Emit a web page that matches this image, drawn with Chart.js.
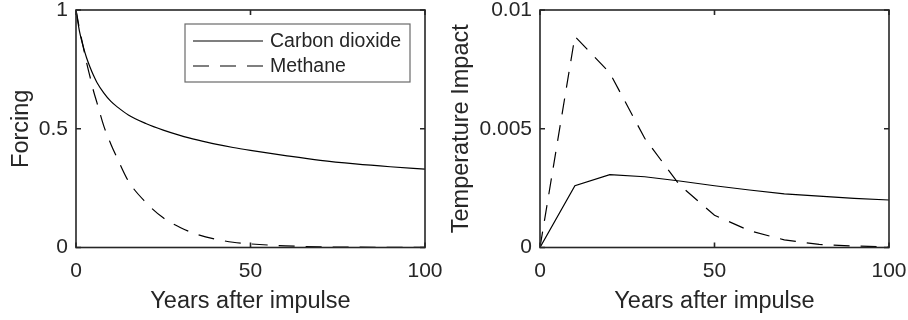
<!DOCTYPE html>
<html>
<head>
<meta charset="utf-8">
<script src="https://cdn.jsdelivr.net/npm/chart.js@4/dist/chart.umd.min.js"></script>
<style>
  body { margin: 0; background: #fff; }
  #wrap { position: relative; width: 908px; height: 320px; overflow: hidden; }
  canvas { position: absolute; top: 0; }
  #forcingChart { left: 0; }
  #tempChart { left: 440px; }
</style>
</head>
<body>
<div id="wrap">
  <canvas id="forcingChart" width="454" height="320"></canvas>
  <canvas id="tempChart" width="468" height="320"></canvas>
</div>
<script>
// forcing after a one-off pulse (left panel)
const forcingYears = [0, 1, 2, 3, 4, 5, 6, 8, 10, 12, 15, 20, 25, 30, 35, 40, 45, 50, 60, 70, 80, 90, 100];
const co2Forcing = [1, 0.91, 0.85, 0.80, 0.76, 0.725, 0.695, 0.65, 0.615, 0.59, 0.558, 0.522, 0.494, 0.471, 0.452, 0.435, 0.421, 0.409, 0.387, 0.367, 0.352, 0.34, 0.33];
const ch4Forcing = [1, 0.92, 0.85, 0.78, 0.72, 0.66, 0.61, 0.51, 0.435, 0.37, 0.28, 0.19, 0.125, 0.083, 0.054, 0.035, 0.022, 0.015, 0.007, 0.003, 0.0013, 0.0006, 0.0002];

// temperature response, 10-year steps (right panel)
const tempYears = [0, 10, 20, 30, 40, 50, 60, 70, 80, 90, 100];
const co2Temp = [0, 0.0026, 0.00307, 0.00298, 0.0028, 0.0026, 0.00242, 0.00226, 0.00216, 0.00207, 0.002];
const ch4Temp = [0, 0.00889, 0.00735, 0.0046, 0.00263, 0.00136, 0.00071, 0.00032, 0.00013, 0.00006, 0.00003];

const seriesNames = ['Carbon dioxide', 'Methane'];
const xTicks = [0, 50, 100];

const FONT = "'Liberation Sans', Arial, Helvetica, sans-serif";
const TEXT = '#262626';
const DASH = [16, 11];

function points(xs, ys) {
  return xs.map((x, i) => ({ x: x, y: ys[i] }));
}

// box around the plot area with inward tick marks on all four sides
const framePlugin = {
  id: 'frame',
  afterDatasetsDraw(chart) {
    const { ctx, chartArea: a, scales: { x, y } } = chart;
    ctx.save();
    ctx.strokeStyle = TEXT;
    ctx.lineWidth = 1.6;
    ctx.strokeRect(a.left, a.top, a.width, a.height);
    ctx.beginPath();
    x.ticks.forEach(t => {
      const px = x.getPixelForValue(t.value);
      ctx.moveTo(px, a.bottom); ctx.lineTo(px, a.bottom - 5);
      ctx.moveTo(px, a.top); ctx.lineTo(px, a.top + 5);
    });
    y.ticks.forEach(t => {
      const py = y.getPixelForValue(t.value);
      ctx.moveTo(a.left, py); ctx.lineTo(a.left + 5, py);
      ctx.moveTo(a.right, py); ctx.lineTo(a.right - 5, py);
    });
    ctx.stroke();
    ctx.restore();
  }
};

// legend drawn inside the plot, top right
const boxLegend = {
  id: 'boxLegend',
  afterDraw(chart) {
    const { ctx } = chart;
    const box = { x: 185, y: 24, w: 225, h: 58 };
    ctx.save();
    ctx.fillStyle = '#fff';
    ctx.fillRect(box.x, box.y, box.w, box.h);
    ctx.strokeStyle = '#6a6a6a';
    ctx.lineWidth = 1.2;
    ctx.strokeRect(box.x, box.y, box.w, box.h);
    ctx.font = '19.5px ' + FONT;
    ctx.textBaseline = 'middle';
    ctx.fillStyle = TEXT;
    chart.data.datasets.forEach((ds, i) => {
      const ry = 41 + i * 25;
      ctx.beginPath();
      ctx.setLineDash(ds.borderDash || []);
      ctx.strokeStyle = ds.borderColor;
      ctx.lineWidth = ds.borderWidth;
      ctx.moveTo(193, ry);
      ctx.lineTo(263, ry);
      ctx.stroke();
      ctx.setLineDash([]);
      ctx.fillText(ds.label, 270, ry + 1);
    });
    ctx.restore();
  }
};

function makeConfig(datasets, opts) {
  return {
    type: 'line',
    data: { datasets: datasets },
    options: {
      responsive: false,
      animation: false,
      devicePixelRatio: 1,
      layout: { padding: { top: 10, right: opts.padRight, left: 0, bottom: 0 } },
      plugins: { legend: { display: false }, tooltip: { enabled: false } },
      elements: { point: { radius: 0 }, line: { tension: 0 } },
      scales: {
        x: {
          type: 'linear',
          min: 0,
          max: 100,
          afterBuildTicks: s => { s.ticks = xTicks.map(v => ({ value: v })); },
          grid: { display: false, drawTicks: false },
          border: { display: false },
          ticks: { color: TEXT, padding: 11, maxRotation: 0, font: { family: FONT, size: 21 } },
          title: {
            display: true,
            text: 'Years after impulse',
            color: TEXT,
            padding: { top: 0, bottom: 4.5 },
            font: { family: FONT, size: 23.5 }
          },
          afterFit: s => {
            s.height = 72.5;
            s.paddingLeft = 0; s.paddingRight = 0;
          }
        },
        y: {
          type: 'linear',
          min: 0,
          max: opts.yMax,
          afterBuildTicks: s => { s.ticks = opts.yTicks.map(v => ({ value: v })); },
          grid: { display: false, drawTicks: false },
          border: { display: false },
          ticks: {
            color: TEXT,
            padding: 8,
            font: { family: FONT, size: 21 },
            callback: v => String(v)
          },
          title: {
            display: true,
            text: opts.yTitle,
            color: TEXT,
            padding: { top: opts.titlePad, bottom: 0 },
            font: { family: FONT, size: 23.5 }
          },
          afterFit: s => {
            s.width = opts.yWidth;
            s.paddingTop = 0; s.paddingBottom = 0;
          }
        }
      }
    },
    plugins: opts.plugins
  };
}

function lineSet(label, xs, ys, dashed, smooth) {
  return {
    label: label,
    data: points(xs, ys),
    borderColor: '#000',
    borderWidth: 1.2,
    borderDash: dashed ? DASH : [],
    cubicInterpolationMode: smooth ? 'monotone' : 'default',
    fill: false
  };
}

new Chart(document.getElementById('forcingChart'), makeConfig([
  lineSet(seriesNames[0], forcingYears, co2Forcing, false, true),
  lineSet(seriesNames[1], forcingYears, ch4Forcing, true, true)
], {
  yMax: 1,
  yTicks: [0, 0.5, 1],
  yTitle: 'Forcing',
  yWidth: 76,
  padRight: 29,
  titlePad: 7.5,
  plugins: [framePlugin, boxLegend]
}));

new Chart(document.getElementById('tempChart'), makeConfig([
  lineSet(seriesNames[0], tempYears, co2Temp, false, false),
  lineSet(seriesNames[1], tempYears, ch4Temp, true, false)
], {
  yMax: 0.01,
  yTicks: [0, 0.005, 0.01],
  yTitle: 'Temperature Impact',
  yWidth: 100,
  padRight: 19,
  titlePad: 7,
  plugins: [framePlugin]
}));
</script>
</body>
</html>
